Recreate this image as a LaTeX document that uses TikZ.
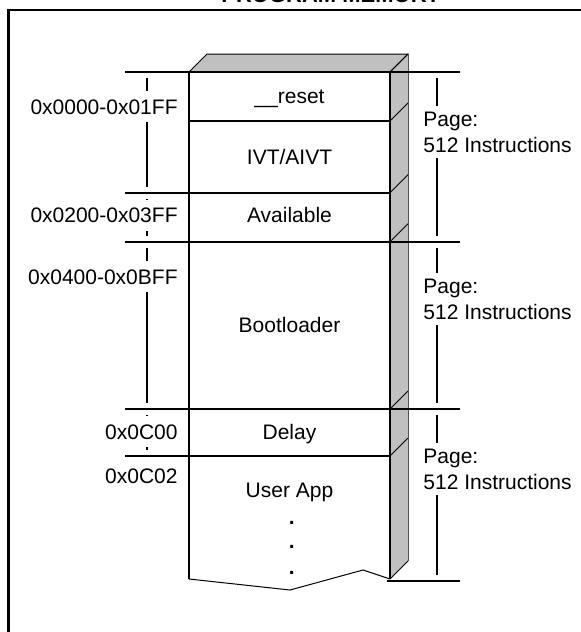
\documentclass[tikz,border=0pt]{standalone}
\usepackage{fontspec}
\setmainfont{Liberation Sans}
\usetikzlibrary{positioning}
\definecolor{sidegray}{HTML}{C0C0C0}
\definecolor{edgegray}{HTML}{505050}

\begin{document}
\begin{tikzpicture}[x=0.5pt, y=-0.5pt,
  heavy/.style={line width=1.1pt},
  light/.style={line width=0.5pt},
  dimline/.style={line width=1.1pt, shorten <=3pt, shorten >=3pt},
  txt/.style={font=\fontsize{10.5}{13}\selectfont, inner sep=0pt},
  addr/.style={txt, anchor=base east, fill=white, inner xsep=1pt, inner ysep=4pt},
  pagelbl/.style={txt, anchor=west, align=left, fill=white, inner xsep=2pt, inner ysep=3pt}]
\useasboundingbox (0,0) rectangle (581,632);

\node[font=\fontsize{11}{13}\selectfont\bfseries, anchor=base](title) at (331,2.5) {PROGRAM MEMORY};
\draw[line width=1.3pt] (8.5,640) -- (8.5,10) -- (590,10);

% top and side of the block
\fill[sidegray] (390,72) -- (408,54) -- (408,561) -- (390,579) -- cycle;
\draw[light, fill=sidegray] (189,72) -- (207,54) -- (408,54) -- (390,72);
\foreach \y in {72,121,192.7,241.7,409,456,579}
  \draw[light] (390,\y) -- ++(18,-18);
\draw[light, edgegray] (408,54) -- (408,561);

% front of the block
\draw[light] (189,579) -- (290,590) -- (363,570) -- (390,579);
\draw[heavy] (189,72) -- (189,579);
\draw[heavy] (390,72) -- (390,579);

\draw[heavy] (125,72) -- (460,72);
\draw[heavy] (189,121) -- (390,121);
\draw[heavy] (125,192.7) -- (390,192.7);
\draw[heavy] (125,241.7) -- (460,241.7);
\draw[heavy] (125,409) -- (460,409);
\draw[heavy] (125,456) -- (390,456);
\draw[heavy] (387,580.7) -- (460,580.7);

\node[txt, anchor=base](reset) at (289.5,103) {\_\_reset};
\node[txt, anchor=base](ivt) at (289.5,164) {IVT/AIVT};
\node[txt, anchor=base](avail) at (289.5,222.5) {Available};
\node[txt, anchor=base](boot) at (289.5,332.5) {Bootloader};
\node[txt, anchor=base](delay) at (289.5,439.5) {Delay};
\node[txt, anchor=base](userapp) at (289.5,497.5) {User App};
\foreach \i/\y in {1/524.5,2/548,3/574.5}
  \node[txt, font=\fontsize{10.5}{13}\selectfont\bfseries, anchor=base](dot\i) at (291.7,\y) {.};

% address ranges on the left
\coordinate(L0) at (147,72);
\coordinate(L1) at (147,192.7);
\coordinate(L2) at (147,241.7);
\coordinate(L3) at (147,409);
\coordinate(L4) at (147,456);
\draw[dimline] (L0) -- (L1);
\draw[dimline] (L1) -- (L2);
\draw[dimline] (L2) -- (L3);
\draw[dimline] (L3) -- (L4);

\node[addr](A0) at (180,114) {0x0000-0x01FF};
\node[addr](A1) at (180,222.5) {0x0200-0x03FF};
\node[addr](A2) at (180,284) {0x0400-0x0BFF};
\node[addr](A3) at (180,439) {0x0C00};
\node[addr](A4) at (180,483) {0x0C02};

% pages on the right
\coordinate(R0) at (437,72);
\coordinate(R1) at (437,241.7);
\coordinate(R2) at (437,409);
\coordinate(R3) at (437,580.7);
\draw[dimline] (R0) -- (R1);
\draw[dimline] (R1) -- (R2);
\draw[dimline] (R2) -- (R3);

\node[pagelbl](P0) at (419,132) {Page:\\512 Instructions};
\node[pagelbl](P1) at (419,299) {Page:\\512 Instructions};
\node[pagelbl](P2) at (419,469) {Page:\\512 Instructions};
\end{tikzpicture}
\end{document}
